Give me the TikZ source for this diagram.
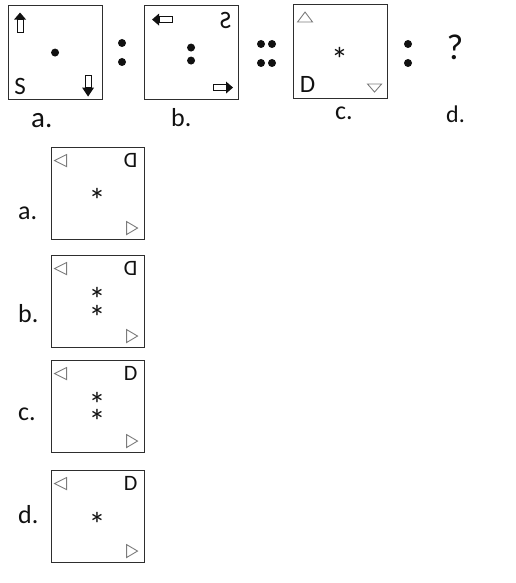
\documentclass[tikz,border=0pt]{standalone}
\usepackage{fontspec}
\setmainfont{Carlito}
\usetikzlibrary{positioning}
\definecolor{Ink}{HTML}{111111}
\definecolor{Frame}{HTML}{2E2E2E}
\definecolor{Pale}{HTML}{7C7C7C}
\newcommand{\starglyph}{\raisebox{-20pt}{*}}
\tikzset{
  panel/.style={draw=Frame,line width=0.9pt,minimum width=94pt,minimum height=94pt,inner sep=0pt},
  optpanel/.style={panel,minimum width=93pt,minimum height=92pt},
  dotmark/.style={circle,fill=Ink,inner sep=0pt,minimum size=8pt},
  tagtext/.style={font=\fontsize{26}{26}\selectfont,text=Ink,inner sep=0pt,anchor=base west},
  glyph/.style={font=\fontsize{25}{25}\selectfont,text=Ink,inner sep=0pt},
  smallglyph/.style={glyph,font=\fontsize{22}{22}\selectfont},
  starmark/.style={font=\fontsize{34}{34}\selectfont,text=Ink,inner sep=0pt,text height=6pt,text depth=6pt,anchor=center},
  tri/.style={draw=Pale,line width=0.9pt,line join=miter},
  blockhead/.style={fill=Ink},
  blockshaft/.style={draw=Ink,line width=0.8pt,fill=white}
}
\begin{document}
\begin{tikzpicture}[x=1pt,y=-1pt]
\useasboundingbox (0,0) rectangle (516,583);
% question row
\node[panel] (qa) at (55.5,52) {};
\node[panel] (qb) at (191.5,52) {};
\node[panel] (qc) at (340,51.5) {};
\begin{scope}[shift={(qa.north west)}]
  \draw[blockshaft] (9,15) rectangle (15,28);
  \fill[blockhead] (6,15) -- (18,15) -- (12,8) -- cycle;
  \node[dotmark] (qadot) at (47,48) {};
  \node[glyph,anchor=base west] (qas) at (6,90) {S};
  \draw[blockshaft] (77,71) rectangle (83,83);
  \fill[blockhead] (74,83) -- (86,83) -- (80,92) -- cycle;
\end{scope}
\begin{scope}[shift={(qb.north west)}]
  \draw[blockshaft] (15,12) rectangle (28,18);
  \fill[blockhead] (15,9) -- (15,21) -- (8,15) -- cycle;
  \node[glyph,anchor=base,xscale=-1] (qbs) at (81.5,24) {S};
  \node[dotmark] (qbdot1) at (47,43) {};
  \node[dotmark] (qbdot2) at (47,56) {};
  \draw[blockshaft] (69,80) rectangle (82,86);
  \fill[blockhead] (82,77) -- (82,89) -- (89,83) -- cycle;
\end{scope}
\begin{scope}[shift={(qc.north west)}]
  \draw[tri] (5,18) -- (20,18) -- (12.5,8) -- cycle;
  \node[starmark] (qcstar) at (47,47) {\starglyph};
  \node[glyph,anchor=base west] (qcd) at (7,88) {D};
  \draw[tri] (75,80) -- (89,80) -- (82,88) -- cycle;
\end{scope}
% ratio marks
\node[dotmark] (c1a) at (122,43) {};
\node[dotmark] (c1b) at (122,62) {};
\node[dotmark] (c2a) at (261,44) {};
\node[dotmark] (c2b) at (272,44) {};
\node[dotmark] (c2c) at (261,63) {};
\node[dotmark] (c2d) at (272,63) {};
\node[dotmark] (c3a) at (408,44) {};
\node[dotmark] (c3b) at (408,63) {};
\node[text=Ink,font=\fontsize{36}{36}\selectfont,anchor=base,inner sep=0pt] (ask) at (455,60) {?};
\node[tagtext,font=\fontsize{29}{29}\selectfont] (la) at (31,128) {a.};
\node[tagtext] (lb) at (171,127) {b.};
\node[tagtext] (lc) at (335,120) {c.};
\node[tagtext,font=\fontsize{24}{24}\selectfont] (ld) at (446,123) {d.};
% answer options
\node[optpanel] (oa) at (97.5,193) {};
\node[optpanel] (ob) at (97.5,301) {};
\node[optpanel] (oc) at (97.5,406) {};
\node[optpanel] (od) at (97.5,516) {};
\foreach \o/\tag/\flip/\ys/\base in {oa/a./-1/{46}/219, ob/b./-1/{37,55}/322, oc/c./1/{37,54}/420, od/d./1/{47}/523}{
  \node[tagtext] (\o-tag) at (18,\base) {\tag};
  \begin{scope}[shift={(\o.north west)}]
    \draw[tri] (16,8) -- (16,20) -- (4,14) -- cycle;
    \node[smallglyph,anchor=base,xscale=\flip] (\o-d) at (80,21) {D};
    \draw[tri] (76,75) -- (76,88) -- (87,81.5) -- cycle;
    \foreach \y [count=\k] in \ys
      \node[starmark] (\o-star\k) at (46.5,\y) {\starglyph};
  \end{scope}
}
\end{tikzpicture}
\end{document}
